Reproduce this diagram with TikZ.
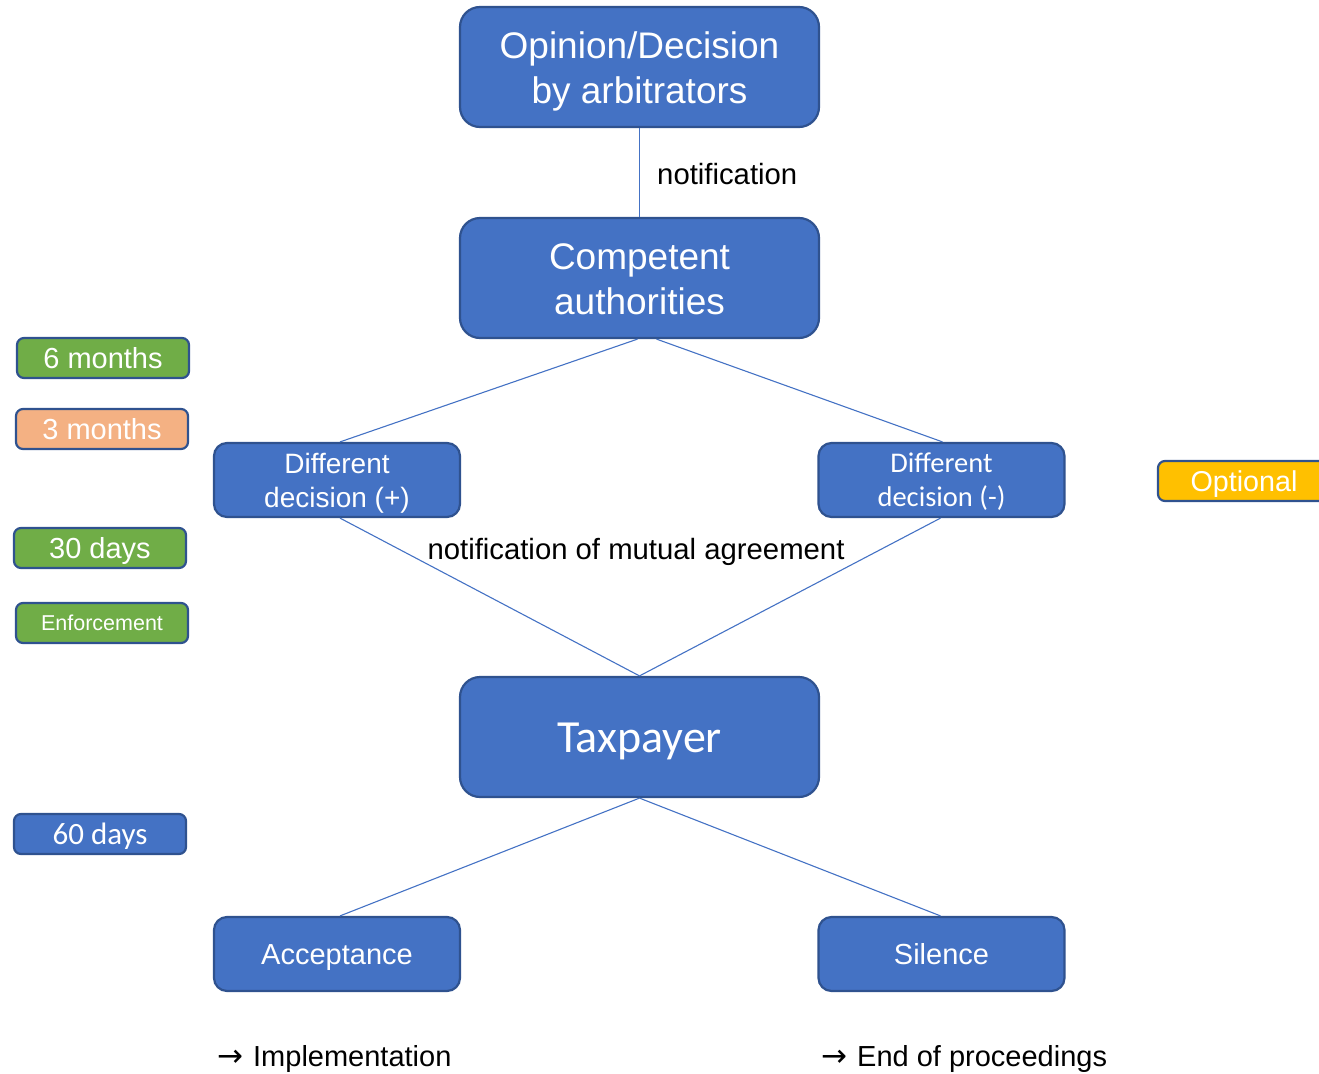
\documentclass[tikz,border=0pt]{standalone}
\usepackage{fontspec}
\setmainfont{Liberation Sans}
\newfontfamily\calibrifont{Carlito}
\newfontfamily\arrowfont{DejaVu Sans}
\definecolor{boxblue}{HTML}{4472C4}
\definecolor{bordc}{HTML}{2F528F}
\definecolor{tgreen}{HTML}{70AD47}
\definecolor{torange}{HTML}{F4B183}
\definecolor{tyellow}{HTML}{FFC000}
\newcommand\aTop{\rule{0pt}{0.95em}}
\newcommand\aBot{\rule[-0.212em]{0pt}{0.212em}}
\newcommand\cTop{\rule{0pt}{0.97em}}
\newcommand\cBot{\rule[-0.28em]{0pt}{0.28em}}
\begin{document}
\begin{tikzpicture}[x=1pt,y=-1pt,
  base/.style={draw=bordc, line width=2.2pt, text=white, align=center, inner sep=0pt},
  bigbox/.style={base, fill=boxblue, rounded corners=20pt, minimum width=359pt, minimum height=120pt},
  midbox/.style={base, fill=boxblue, rounded corners=13pt, minimum width=246pt, minimum height=74pt},
  tagbox/.style={base, rounded corners=7pt, minimum width=172pt, minimum height=40pt},
  conn/.style={draw=boxblue, line width=1.1pt},
  lbl/.style={inner sep=0pt, text=black}
]
\useasboundingbox (0,0) rectangle (1319,1073);
% main boxes
\node[bigbox, font=\fontsize{37}{45}\selectfont] (op) at (639.5,67) {\aTop Opinion/Decision\\by arbitrators\aBot};
\node[bigbox, font=\fontsize{37}{45}\selectfont] (ca) at (639.5,278) {\aTop Competent\\authorities\aBot};
\node[midbox, font=\fontsize{28}{34}\selectfont] (dp) at (337,480) {\aTop Different\\decision (+)\aBot};
\node[midbox, font=\calibrifont\fontsize{28.5}{34}\selectfont] (dm) at (941.5,480) {\cTop Different\\decision (-)\cBot};
\node[bigbox, font=\calibrifont\fontsize{46}{55}\selectfont] (tp) at (639.5,737) {\cTop Taxpayer\cBot};
\node[midbox, font=\fontsize{29}{34}\selectfont] (ac) at (337,954) {\aTop Acceptance\aBot};
\node[midbox, font=\fontsize{29}{34}\selectfont] (si) at (941.5,954) {\aTop Silence\aBot};
% tags
\node[tagbox, fill=tgreen, font=\fontsize{29}{34}\selectfont] (t6m) at (103,358) {\aTop 6 months\aBot};
\node[tagbox, fill=torange, font=\fontsize{29}{34}\selectfont] (t3m) at (102,429) {\aTop 3 months\aBot};
\node[tagbox, fill=tgreen, font=\fontsize{29}{34}\selectfont] (t30) at (100,548) {\aTop 30 days\aBot};
\node[tagbox, fill=tgreen, font=\fontsize{21.5}{26}\selectfont] (ten) at (102,623) {\aTop Enforcement\aBot};
\node[tagbox, fill=boxblue, font=\calibrifont\fontsize{31}{36}\selectfont] (t60) at (100,834) {\cTop 60 days\cBot};
\node[tagbox, fill=tyellow, font=\fontsize{28.7}{34}\selectfont] (topt) at (1244,481) {\aTop Optional\aBot};
% connectors
\draw[conn] (op.south) -- (ca.north);
\draw[conn] ([xshift=-2pt]ca.south) -- ([xshift=3pt]dp.north);
\draw[conn] ([xshift=17pt]ca.south) -- ([xshift=1pt]dm.north);
\draw[conn] ([xshift=3pt]dp.south) -- (tp.north);
\draw[conn] ([xshift=-1pt]dm.south) -- (tp.north);
\draw[conn] (tp.south) -- ([xshift=3pt]ac.north);
\draw[conn] (tp.south) -- ([xshift=-1pt]si.north);
% labels
\node[lbl, anchor=west, font=\fontsize{29.3}{34}\selectfont] (ln) at (657,174) {\aTop notification\aBot};
\node[lbl, font=\fontsize{29.3}{34}\selectfont] (lm) at (636,549) {\aTop notification of mutual agreement\aBot};
\node[lbl, anchor=west, font=\fontsize{29}{34}\selectfont] (li) at (217,1056) {\aTop{\arrowfont\fontsize{31}{34}\selectfont →}\hspace{10pt}Implementation\aBot};
\node[lbl, anchor=west, font=\fontsize{29}{34}\selectfont] (le) at (821,1056) {\aTop{\arrowfont\fontsize{31}{34}\selectfont →}\hspace{10pt}End of proceedings\aBot};
\end{tikzpicture}
\end{document}
